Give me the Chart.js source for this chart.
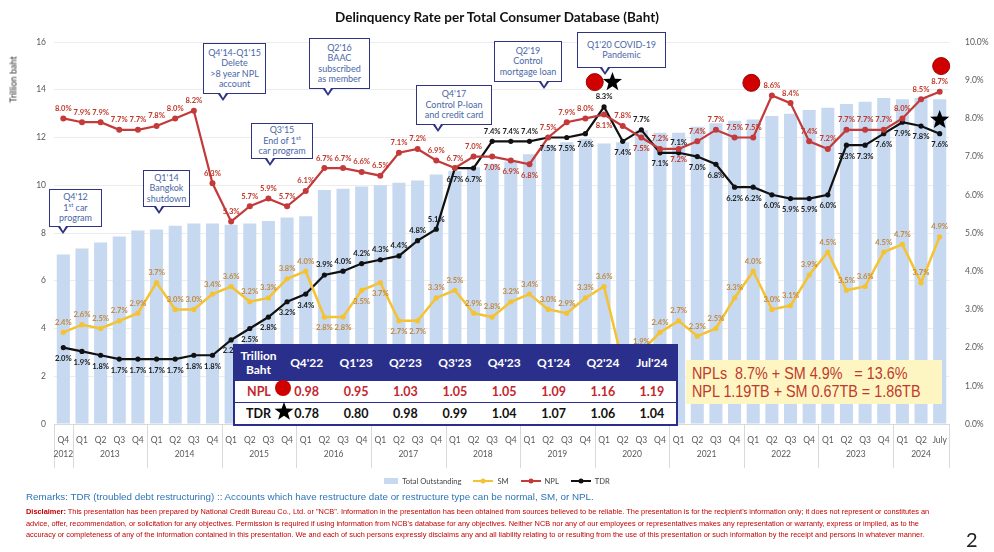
<!DOCTYPE html>
<html>
<head>
<meta charset="utf-8">
<script src="https://cdn.jsdelivr.net/npm/chart.js@4.4.1/dist/chart.umd.min.js"></script>
<style>
body{margin:0;background:#fff;font-family:Lato,"Open Sans",sans-serif;}
#wrap{position:relative;width:994px;height:552px;overflow:hidden;}
#c{position:absolute;left:0;top:0;}
.title{position:absolute;top:9px;left:0;width:994px;text-align:center;font-weight:bold;font-size:13.5px;color:#111;}
.ytitle{position:absolute;left:-22px;top:74px;width:70px;text-align:center;font-size:9px;color:#333;transform:rotate(-90deg);}
.note{position:absolute;background:#fff;border:1.6px solid #2f3482;color:#4a67a6;font-size:9px;line-height:10.5px;text-align:center;box-sizing:border-box;display:flex;align-items:center;justify-content:center;}
.note:before{content:'';position:absolute;bottom:-8px;left:var(--px);border-left:5px solid transparent;border-right:5px solid transparent;border-top:7px solid #2f3482;}
.note:after{content:'';position:absolute;bottom:-5px;left:calc(var(--px) + 2px);border-left:3px solid transparent;border-right:3px solid transparent;border-top:5px solid #fff;}
.note sup{font-size:6px;line-height:0;}
table.t{position:absolute;left:233px;top:344px;width:445px;height:78px;border-collapse:collapse;border:2px solid #2b2f8c;background:#fff;font-weight:bold;table-layout:fixed;}
table.t td{text-align:center;padding:0;}
table.t tr.h td{background:#2b2f8c;color:#fff;font-size:12px;height:34px;line-height:14px;}
table.t tr.r td{font-size:12.5px;height:21px;border-top:1.5px solid #2b2f8c;}
table.t tr.npl td{color:#c4262e;}
table.t tr.tdr td{color:#111;}
.sym{position:absolute;}
.ybox{position:absolute;left:686px;top:360px;width:256px;height:44px;background:#fdf6c3;}
.ybox div{position:absolute;left:6px;top:4px;color:#c0392b;font-family:"Liberation Sans",Arial,sans-serif;font-size:16.5px;line-height:18px;white-space:pre;transform:scaleX(0.87);transform-origin:0 0;}
.legend{position:absolute;top:475px;left:0;width:994px;text-align:center;font-size:7.6px;color:#444;}
.legend span{display:inline-block;vertical-align:middle;margin:0 2px;}
.remarks{position:absolute;left:26px;top:491px;font-size:9.8px;color:#2e74b5;font-family:"Liberation Sans",Arial,sans-serif;}
.disc{position:absolute;left:26px;top:506px;width:950px;font-size:7.4px;line-height:11.5px;color:#c00000;font-family:"Liberation Sans",Arial,sans-serif;white-space:nowrap;}
.page{position:absolute;left:966px;top:527px;font-size:20px;color:#222;}
</style>
</head>
<body>
<div id="wrap">
<canvas id="c" width="994" height="552"></canvas>
<div class="title">Delinquency Rate per Total Consumer Database (Baht)</div>
<div class="ytitle">Trillion baht</div>

<div class="note" style="left:49px;top:189px;width:53px;height:38px;--px:8px"><div>Q4'12<br>1<sup>st</sup> car<br>program</div></div>
<div class="note" style="left:143px;top:170px;width:47px;height:37px;--px:10px"><div>Q1'14<br>Bangkok<br>shutdown</div></div>
<div class="note" style="left:203px;top:43px;width:63px;height:51px;--px:14px"><div>Q4'14-Q1'15<br>Delete<br>&gt;8 year NPL<br>account</div></div>
<div class="note" style="left:251px;top:123px;width:62px;height:36px;--px:13px"><div>Q3'15<br>End of 1<sup>st</sup><br>car program</div></div>
<div class="note" style="left:309px;top:38px;width:61px;height:51px;--px:13px"><div>Q2'16<br>BAAC<br>subscribed<br>as member</div></div>
<div class="note" style="left:416px;top:85px;width:76px;height:40px;--px:16px"><div>Q4'17<br>Control P-loan<br>and credit card</div></div>
<div class="note" style="left:494px;top:41px;width:68px;height:41px;--px:44px"><div>Q2'19<br>Control<br>mortgage loan</div></div>
<div class="note" style="left:577px;top:32px;width:89px;height:36px;--px:22px"><div>Q1'20 COVID-19<br>Pandemic</div></div>

<table class="t">
<colgroup><col style="width:48px"><col span="8"></colgroup>
<tr class="h"><td>Trillion<br>Baht</td><td>Q4'22</td><td>Q1'23</td><td>Q2'23</td><td>Q3'23</td><td>Q4'23</td><td>Q1'24</td><td>Q2'24</td><td>Jul'24</td></tr>
<tr class="r npl" id="nplRow"></tr>
<tr class="r tdr" id="tdrRow"></tr>
</table>
<svg class="sym" style="left:274px;top:379px" width="18" height="18"><circle cx="9" cy="9" r="8" fill="#d00000"/></svg>
<svg class="sym" style="left:274px;top:401px" width="20" height="20"><polygon points="10,1 12.4,7.6 19.5,7.7 13.9,12 15.9,18.8 10,14.8 4.1,18.8 6.1,12 0.5,7.7 7.6,7.6" fill="#000"/></svg>

<div class="ybox"><div>NPLs  8.7% + SM 4.9%   = 13.6%
NPL 1.19TB + SM 0.67TB = 1.86TB</div></div>

<div class="legend">
<span style="width:14px;height:6px;background:#c6d9f0"></span><span>Total Outstanding</span>
<span style="margin-left:8px"><svg width="20" height="6"><line x1="0" y1="3" x2="20" y2="3" stroke="#f5c232" stroke-width="2"/><circle cx="10" cy="3" r="2.5" fill="#f5c232"/></svg></span><span>SM</span>
<span style="margin-left:8px"><svg width="20" height="6"><line x1="0" y1="3" x2="20" y2="3" stroke="#c43a3a" stroke-width="2"/><circle cx="10" cy="3" r="2.5" fill="#c43a3a"/></svg></span><span>NPL</span>
<span style="margin-left:8px"><svg width="20" height="6"><line x1="0" y1="3" x2="20" y2="3" stroke="#111" stroke-width="2"/><circle cx="10" cy="3" r="2.5" fill="#111"/></svg></span><span>TDR</span>
</div>

<div class="remarks">Remarks: TDR (troubled debt restructuring) :: Accounts which have restructure date or restructure type can be normal, SM, or NPL.</div>
<div class="disc"><b>Disclaimer:</b> This presentation has been prepared by National Credit Bureau Co., Ltd. or "NCB". Information in the presentation has been obtained from sources believed to be reliable. The presentation is for the recipient's information only; it does not represent or constitutes an<br>advice, offer, recommendation, or solicitation for any objectives. Permission is required if using information from NCB's database for any objectives. Neither NCB nor any of our employees or representatives makes any representation or warranty, express or implied, as to the<br>accuracy or completeness of any of the information contained in this presentation. We and each of such persons expressly disclaims any and all liability relating to or resulting from the use of this presentation or such information by the receipt and persons in whatever manner.</div>
<div class="page">2</div>
</div>

<script>
// x axis: Q4'12 ... Q2'24, July'24
var quarters = ['Q4',
  'Q1','Q2','Q3','Q4', 'Q1','Q2','Q3','Q4', 'Q1','Q2','Q3','Q4', 'Q1','Q2','Q3','Q4',
  'Q1','Q2','Q3','Q4', 'Q1','Q2','Q3','Q4', 'Q1','Q2','Q3','Q4', 'Q1','Q2','Q3','Q4',
  'Q1','Q2','Q3','Q4', 'Q1','Q2','Q3','Q4', 'Q1','Q2','Q3','Q4', 'Q1','Q2','July']
var years = ['2012','2013','2014','2015','2016','2017','2018','2019','2020','2021','2022','2023','2024']
var yearSpan = [1,4,4,4,4,4,4,4,4,4,4,4,3]

// Total outstanding, trillion baht (left axis)
var outstanding = [7.1,
  7.35,7.6,7.85,8.1, 8.15,8.3,8.4,8.4, 8.35,8.4,8.5,8.65, 8.7,9.8,9.85,9.95,
  10.0,10.1,10.2,10.45, 10.6,10.75,10.9,11.0, 11.3,11.7,11.8,11.95, 11.75,11.8,12.3,12.2,
  12.2,12.45,12.6,12.7, 12.75,12.9,13.0,13.15, 13.25,13.4,13.5,13.65, 13.6,13.65,13.6]

// rates, % (right axis)
var smRate = [2.4,
  2.6,2.5,2.7,2.9, 3.7,3.0,3.0,3.4, 3.6,3.2,3.3,3.8, 4.0,2.8,2.8,3.5,
  3.7,2.7,2.7,3.3, 3.5,2.9,2.8,3.2, 3.4,3.0,2.9,3.3, 3.6,1.6,1.9,2.4,
  2.7,2.3,2.5,3.3, 4.0,3.0,3.1,3.9, 4.5,3.5,3.6,4.5, 4.7,3.7,4.9]
var nplRate = [8.0,
  7.9,7.9,7.7,7.7, 7.8,8.0,8.2,6.3, 5.3,5.7,5.9,5.7, 6.1,6.7,6.7,6.6,
  6.5,7.1,7.2,6.9, 6.7,7.0,7.0,6.9, 6.8,7.5,7.9,8.0, 8.1,7.8,7.5,7.2,
  7.2,7.4,7.7,7.5, 7.5,8.6,8.4,7.4, 7.2,7.7,7.7,7.7, 8.0,8.5,8.7]
var tdrRate = [2.0,
  1.9,1.8,1.7,1.7, 1.7,1.7,1.8,1.8, 2.2,2.5,2.8,3.2, 3.4,3.9,4.0,4.2,
  4.3,4.4,4.8,5.1, 6.7,6.7,7.4,7.4, 7.4,7.5,7.5,7.6, 8.3,7.4,7.7,7.1,
  7.1,7.0,6.8,6.2, 6.2,6.0,5.9,5.9, 6.0,7.3,7.3,7.6, 7.9,7.8,7.6]

// label placement above (a) / below (b) the point
var smPos  = 'aaaaaaaaaaaaaabbbbbbaaaaaaaaaaaaaaaaaaaaaaaaaaaa'
var nplPos = 'aaaaaaaaaaaaaaaaaaaaaaabbbaaabababaaaaaaaaaaaaaa'
var tdrPos = 'bbbbbbbbbbbbbbaaaaaaabbaaabbbabababbbbbbbbbbbbbb'

// table
var tableNpl = [0.98,0.95,1.03,1.05,1.05,1.09,1.16,1.19]
var tableTdr = [0.78,0.80,0.98,0.99,1.04,1.07,1.06,1.04]

// big markers: [category index, rate %]
var redDots = [[28.5,8.95],[36.9,8.93],[47.08,9.37]]
var stars = [[29.45,8.95],[47.0,7.96]]

document.getElementById('nplRow').innerHTML = '<td style="text-align:left;padding-left:12px">NPL</td>' +
  tableNpl.map(function(v){return '<td>'+v.toFixed(2)+'</td>'}).join('')
document.getElementById('tdrRow').innerHTML = '<td style="text-align:left;padding-left:11px">TDR</td>' +
  tableTdr.map(function(v){return '<td>'+v.toFixed(2)+'</td>'}).join('')

function drawStar(ctx, x, y, r) {
    ctx.beginPath()
    for (var k = 0; k < 10; k++) {
        var rr = k % 2 ? r * 0.42 : r
        var a = -Math.PI / 2 + k * Math.PI / 5
        ctx.lineTo(x + rr * Math.cos(a), y + rr * Math.sin(a))
    }
    ctx.closePath()
    ctx.fill()
}

var extras = {
    id: 'extras',
    afterDatasetsDraw: function(chart) {
        var ctx = chart.ctx
        ctx.save()
        ctx.font = 'bold 7.6px Lato'
        ctx.textAlign = 'center'
        ctx.textBaseline = 'middle'
        chart.data.datasets.forEach(function(ds, di) {
            if (!ds.labelPos) return
            var meta = chart.getDatasetMeta(di)
            meta.data.forEach(function(pt, i) {
                var below = ds.labelPos[i] === 'b'
                ctx.fillStyle = ds.labelColor
                ctx.fillText(ds.data[i].toFixed(1) + '%', pt.x, pt.y + (below ? 11 : -10))
            })
        })
        var xs = chart.scales.x, yr = chart.scales.y1
        redDots.forEach(function(d) {
            ctx.beginPath()
            ctx.arc(xs.getPixelForValue(d[0]), yr.getPixelForValue(d[1]), 8.5, 0, Math.PI * 2)
            ctx.fillStyle = '#d10000'
            ctx.fill()
            ctx.strokeStyle = '#9e0000'
            ctx.lineWidth = 1
            ctx.stroke()
        })
        ctx.fillStyle = '#000'
        stars.forEach(function(s) {
            drawStar(ctx, xs.getPixelForValue(s[0]), yr.getPixelForValue(s[1]), 10)
        })
        ctx.restore()
    },
    afterDraw: function(chart) {
        // year row under quarter labels
        var ctx = chart.ctx, xs = chart.scales.x, bottom = chart.chartArea.bottom
        var step = xs.getPixelForValue(1) - xs.getPixelForValue(0)
        ctx.save()
        ctx.strokeStyle = '#d9d9d9'
        ctx.lineWidth = 1
        ctx.fillStyle = '#595959'
        ctx.font = '8.5px Lato'
        ctx.textAlign = 'center'
        ctx.textBaseline = 'middle'
        var start = 0, x1 = 0
        for (var k = 0; k < years.length; k++) {
            var x0 = xs.getPixelForValue(start) - step / 2
            x1 = xs.getPixelForValue(start + yearSpan[k] - 1) + step / 2
            ctx.beginPath()
            ctx.moveTo(Math.round(x0) + 0.5, bottom)
            ctx.lineTo(Math.round(x0) + 0.5, bottom + 44)
            ctx.stroke()
            ctx.fillText(years[k], (x0 + x1) / 2, bottom + 30)
            start += yearSpan[k]
        }
        ctx.beginPath()
        ctx.moveTo(Math.round(x1) + 0.5, bottom)
        ctx.lineTo(Math.round(x1) + 0.5, bottom + 44)
        ctx.stroke()
        ctx.restore()
    }
}

new Chart(document.getElementById('c'), {
    type: 'bar',
    data: {
        labels: quarters,
        datasets: [
            {
                type: 'line', label: 'SM', data: smRate, yAxisID: 'y1', order: 1,
                borderColor: '#f5c232', backgroundColor: '#f5c232', borderWidth: 2.5,
                pointRadius: 2.6, pointBackgroundColor: '#f5c232', pointBorderWidth: 0,
                labelPos: smPos, labelColor: '#c28840'
            },
            {
                type: 'line', label: 'NPL', data: nplRate, yAxisID: 'y1', order: 1,
                borderColor: '#c43a3a', backgroundColor: '#c43a3a', borderWidth: 2.2,
                pointRadius: 3, pointBackgroundColor: '#c43a3a', pointBorderWidth: 0,
                labelPos: nplPos, labelColor: '#c0392b'
            },
            {
                type: 'line', label: 'TDR', data: tdrRate, yAxisID: 'y1', order: 1,
                borderColor: '#111', backgroundColor: '#111', borderWidth: 2.2,
                pointRadius: 2.6, pointBackgroundColor: '#111', pointBorderWidth: 0,
                labelPos: tdrPos, labelColor: '#1a1a1a'
            },
            {
                label: 'Total Outstanding', data: outstanding, yAxisID: 'y', order: 10,
                backgroundColor: '#c6d9f0', barPercentage: 0.7, categoryPercentage: 1
            }
        ]
    },
    options: {
        responsive: false,
        animation: false,
        layout: { padding: { left: 0, right: 0, top: 42, bottom: 82 } },
        plugins: { legend: { display: false }, tooltip: { enabled: false } },
        scales: {
            x: {
                grid: { display: false },
                border: { color: '#d9d9d9' },
                ticks: { color: '#595959', font: { size: 8.5, family: 'Lato' }, padding: 3, maxRotation: 0, autoSkip: false },
                afterFit: function(s) { s.height = 46 }
            },
            y: {
                position: 'left', min: 0, max: 16,
                ticks: { stepSize: 2, color: '#595959', font: { size: 8.5, family: 'Lato' }, padding: 8 },
                grid: { color: '#ececec', drawTicks: false },
                border: { display: false },
                afterFit: function(s) { s.width = 54 }
            },
            y1: {
                position: 'right', min: 0, max: 10,
                ticks: { stepSize: 1, color: '#595959', font: { size: 8.5, family: 'Lato' }, padding: 8,
                    callback: function(v) { return v.toFixed(1) + '%' } },
                grid: { display: false },
                border: { display: false },
                afterFit: function(s) { s.width = 45 }
            }
        }
    },
    plugins: [extras]
})
</script>
</body>
</html>
